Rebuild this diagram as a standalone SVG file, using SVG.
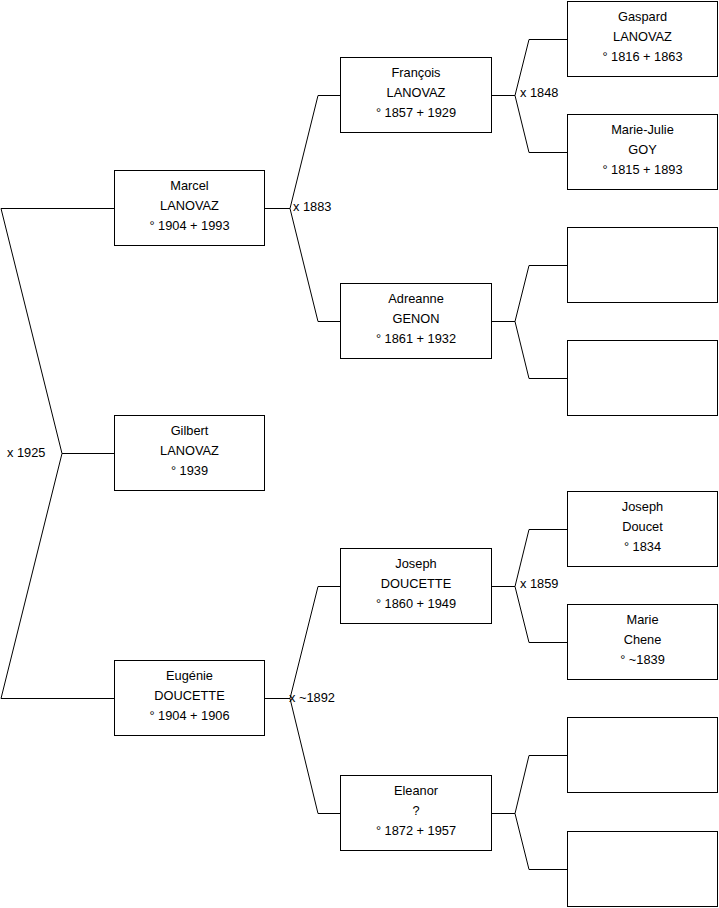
<svg xmlns="http://www.w3.org/2000/svg" width="719" height="908" viewBox="0 0 719 908">
<style>
.box{fill:#fff;stroke:#000;stroke-width:1}
.ln{fill:none;stroke:#000;stroke-width:1}
text{font-family:"Liberation Sans",Arial,sans-serif;font-size:12.8px;fill:#000}
.c{text-anchor:middle}
</style>
<rect width="719" height="908" fill="#fff"/>
<g id="connectors">
<path class="ln" d="M114.5,208.5 H1 L62,453.5 L1,698.5 H114.5 M62,453.5 H114.5"/>
<path class="ln" d="M264.5,208.5 H290 M340.5,95.5 H318 L290,208.5 L318,321.5 H340.5"/>
<path class="ln" d="M491.5,95.5 H515 M567.5,39.5 H529 L515,95.5 L529,152.5 H567.5"/>
<path class="ln" d="M491.5,321.5 H515 M567.5,265.5 H529 L515,321.5 L529,378.5 H567.5"/>
<path class="ln" d="M264.5,698.5 H290 M340.5,586.5 H318 L290,698.5 L318,813.5 H340.5"/>
<path class="ln" d="M491.5,586.5 H515 M567.5,529.5 H529 L515,586.5 L529,642.5 H567.5"/>
<path class="ln" d="M491.5,813.5 H515 M567.5,755.5 H529 L515,813.5 L529,869.5 H567.5"/>
<text x="7" y="456.5">x 1925</text>
<text x="293" y="211">x 1883</text>
<text x="520" y="96.5">x 1848</text>
<text x="289" y="702">x ~1892</text>
<text x="520" y="587.5">x 1859</text>
</g>
<g id="marcel"><rect class="box" x="114.5" y="170.5" width="150" height="75"/>
<text class="c" x="189.5" y="190">Marcel</text><text class="c" x="189.5" y="210">LANOVAZ</text><text class="c" x="189.5" y="230">° 1904 + 1993</text></g>
<g id="gilbert"><rect class="box" x="114.5" y="415.5" width="150" height="75"/>
<text class="c" x="189.5" y="435">Gilbert</text><text class="c" x="189.5" y="455">LANOVAZ</text><text class="c" x="189.5" y="475">° 1939</text></g>
<g id="eugenie"><rect class="box" x="114.5" y="660.5" width="150" height="75"/>
<text class="c" x="189.5" y="680">Eugénie</text><text class="c" x="189.5" y="700">DOUCETTE</text><text class="c" x="189.5" y="720">° 1904 + 1906</text></g>
<g id="francois"><rect class="box" x="340.5" y="57.5" width="151" height="75"/>
<text class="c" x="416" y="77">François</text><text class="c" x="416" y="97">LANOVAZ</text><text class="c" x="416" y="117">° 1857 + 1929</text></g>
<g id="adreanne"><rect class="box" x="340.5" y="283.5" width="151" height="75"/>
<text class="c" x="416" y="303">Adreanne</text><text class="c" x="416" y="323">GENON</text><text class="c" x="416" y="343">° 1861 + 1932</text></g>
<g id="joseph"><rect class="box" x="340.5" y="548.5" width="151" height="75"/>
<text class="c" x="416" y="568">Joseph</text><text class="c" x="416" y="588">DOUCETTE</text><text class="c" x="416" y="608">° 1860 + 1949</text></g>
<g id="eleanor"><rect class="box" x="340.5" y="775.5" width="151" height="75"/>
<text class="c" x="416" y="795">Eleanor</text><text class="c" x="416" y="815">?</text><text class="c" x="416" y="835">° 1872 + 1957</text></g>
<g id="gaspard"><rect class="box" x="567.5" y="1.5" width="150" height="75"/>
<text class="c" x="642.5" y="20.5">Gaspard</text><text class="c" x="642.5" y="40.5">LANOVAZ</text><text class="c" x="642.5" y="60.5">° 1816 + 1863</text></g>
<g id="marie-julie"><rect class="box" x="567.5" y="114.5" width="150" height="75"/>
<text class="c" x="642.5" y="133.5">Marie-Julie</text><text class="c" x="642.5" y="153.5">GOY</text><text class="c" x="642.5" y="173.5">° 1815 + 1893</text></g>
<g id="empty1"><rect class="box" x="567.5" y="227.5" width="150" height="75"/></g>
<g id="empty2"><rect class="box" x="567.5" y="340.5" width="150" height="75"/></g>
<g id="joseph-doucet"><rect class="box" x="567.5" y="491.5" width="150" height="75"/>
<text class="c" x="642.5" y="511">Joseph</text><text class="c" x="642.5" y="531">Doucet</text><text class="c" x="642.5" y="551">° 1834</text></g>
<g id="marie-chene"><rect class="box" x="567.5" y="604.5" width="150" height="75"/>
<text class="c" x="642.5" y="624">Marie</text><text class="c" x="642.5" y="644">Chene</text><text class="c" x="642.5" y="664">° ~1839</text></g>
<g id="empty3"><rect class="box" x="567.5" y="717.5" width="150" height="75"/></g>
<g id="empty4"><rect class="box" x="567.5" y="831.5" width="150" height="75"/></g>
</svg>
